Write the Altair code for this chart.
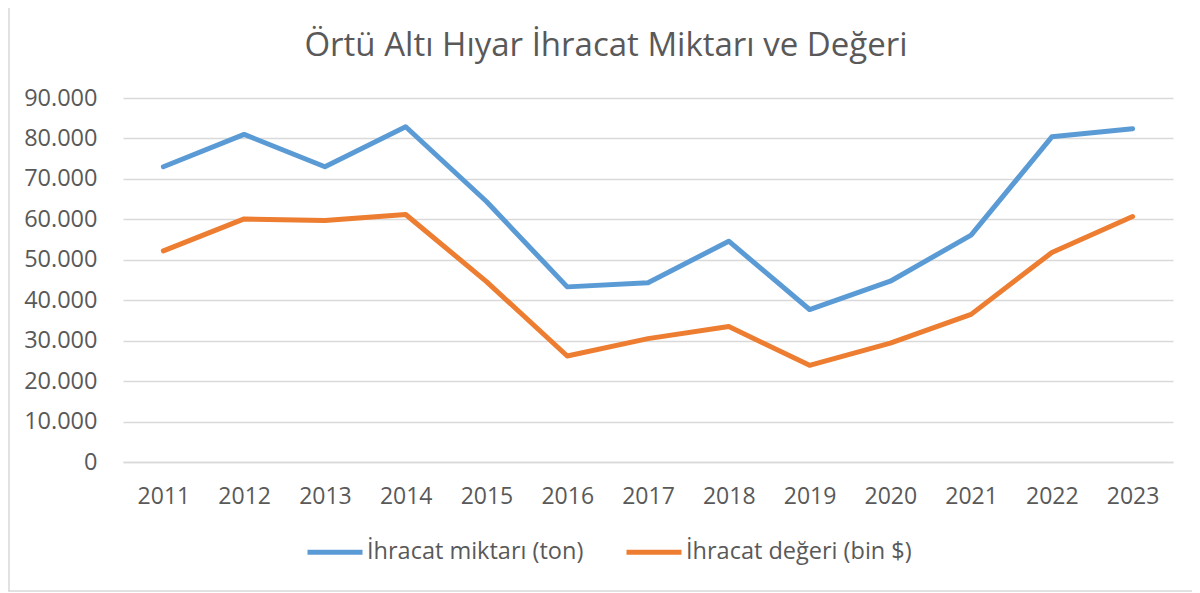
import altair as alt
import pandas as pd

years = [str(y) for y in range(2011, 2024)]
miktar = [73000, 81000, 73000, 82900, 64400, 43300, 44300, 54600, 37700, 44700, 56100, 80400, 82400]
deger = [52200, 60100, 59700, 61200, 44600, 26200, 30500, 33500, 23900, 29400, 36500, 51800, 60700]
series_names = ["İhracat miktarı (ton)", "İhracat değeri (bin $)"]
series_colors = ["#5B9BD5", "#ED7D31"]
title_text = ["Örtü Altı Hıyar İhracat Miktarı ve Değeri"]

rows = []
for name, vals in zip(series_names, [miktar, deger]):
    for i, (y, v) in enumerate(zip(years, vals)):
        rows.append({"Yıl": y, "Değer": v, "Seri": name, "order": i})
df = pd.DataFrame(rows)

FONT = "Open Sans"
TXT = "#595959"
W, H = 1050, 364
PL, PT, PR, PB = 115, 90, 1184 - 115 - W, 585 - 90 - H

lines = alt.Chart(df).mark_line(strokeWidth=5, strokeCap="round", strokeJoin="round").encode(
    x=alt.X("Yıl:O", sort=years, scale=alt.Scale(type="point", padding=0.5),
            axis=alt.Axis(title=None, labelAngle=0, labelFontSize=23, labelColor=TXT, labelFont=FONT,
                          ticks=False, domainColor="#D9D9D9", domainWidth=1.5, labelPadding=23, grid=False)),
    y=alt.Y("Değer:Q", scale=alt.Scale(domain=[0, 90000], nice=False),
            axis=alt.Axis(title=None, values=list(range(0, 90001, 10000)),
                          labelExpr="replace(format(datum.value, ','), ',', '.')",
                          labelFontSize=23.5, labelColor=TXT, labelFont=FONT, ticks=False, domain=False,
                          gridColor="#D9D9D9", gridWidth=1.5, labelPadding=26)),
    color=alt.Color("Seri:N", sort=series_names,
                    scale=alt.Scale(domain=series_names, range=series_colors),
                    legend=alt.Legend(title=None, orient="none", legendX=182, legendY=H + 60,
                                      direction="horizontal", symbolType="stroke", symbolSize=3025,
                                      symbolStrokeWidth=5, labelFontSize=23.5, labelColor=TXT, labelFont=FONT,
                                      labelOffset=2, columnPadding=32, labelLimit=0)),
    order="order:Q",
)

title = alt.Chart(pd.DataFrame({"t": title_text})).mark_text(
    font=FONT, fontSize=33, color=TXT, align="center", baseline="alphabetic"
).encode(text="t:N", x=alt.value(483), y=alt.value(-42))

border = alt.Chart(pd.DataFrame({"a": [0]})).mark_rule(color="#D9D9D9", strokeWidth=1.5).encode(
    x=alt.value(-PL), x2=alt.value(W + PR), y=alt.value(H + PB - 2), y2=alt.value(H + PB - 2)
)
border_left = alt.Chart(pd.DataFrame({"a": [0]})).mark_rule(color="#D9D9D9", strokeWidth=1.5).encode(
    x=alt.value(-PL + 1), y=alt.value(-PT), y2=alt.value(H + PB - 2)
)

chart = alt.layer(border, border_left, title, lines).properties(
    width=W, height=H,
    padding={"left": PL, "top": PT, "right": PR, "bottom": PB},
    autosize=alt.AutoSizeParams(type="none"),
).configure_view(stroke=None)

chart.save("out.html", embed_options={"renderer": "svg", "actions": False})
